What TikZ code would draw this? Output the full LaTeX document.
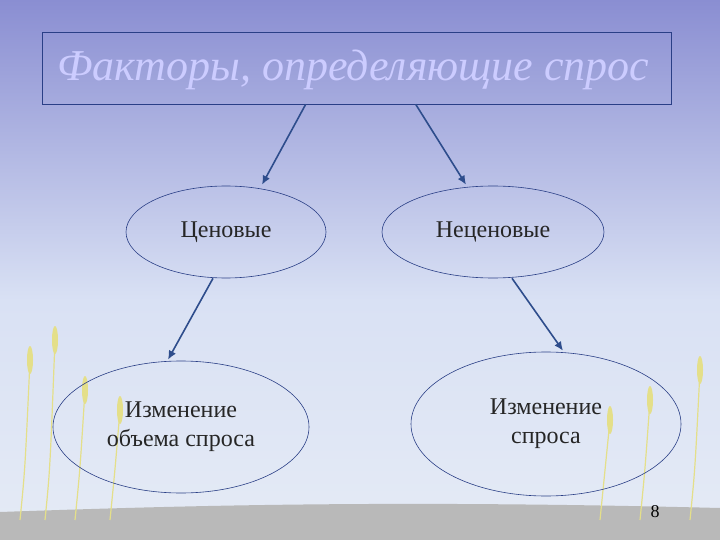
\documentclass[tikz,border=0pt]{standalone}
\usepackage{fontspec}
\setmainfont{Liberation Serif}
\usetikzlibrary{shapes.geometric,arrows.meta,calc}
\definecolor{topc}{HTML}{8A8ED2}
\definecolor{midc}{HTML}{D9E1F4}
\definecolor{lowc}{HTML}{E4EAF5}
\definecolor{arr}{HTML}{2E4D8C}
\definecolor{edge}{HTML}{2A3F86}
\begin{document}
\begin{tikzpicture}[x=1pt,y=-1pt,
  oval/.style={ellipse,draw=edge,line width=0.6pt,align=center,font=\fontsize{24}{29}\selectfont,text=black!85},
  link/.style={draw=arr,line width=1.6pt,-{Latex[length=9pt,width=8pt]}}]
\useasboundingbox (0,0) rectangle (720,540);
\shade[top color=topc,bottom color=midc] (0,0) rectangle (720,300);
\shade[top color=midc,bottom color=lowc] (0,300) rectangle (720,520);
\fill[gray!55] (0,540) -- (0,512) .. controls (200,505) and (400,500) .. (720,508) -- (720,540) -- cycle;
\foreach \x/\h in {20/180,45/200,75/150,110/130,600/120,640/140,690/170}{
  \draw[yellow!40!olive!40!white,line width=1.2pt] (\x,520) .. controls (\x+5,470) .. (\x+10,540-\h);
  \fill[yellow!40!olive!40!white] (\x+10,540-\h) ellipse (3 and 14);}
\node[draw=edge,line width=0.6pt,minimum width=629,minimum height=72,inner sep=0] (title) at (356.5,68) {};
\node[anchor=west,inner sep=0,font=\itshape\fontsize{44}{48}\selectfont,text=white!80!blue] (tt) at (57,70) {Факторы, определяющие спрос};
\node[oval,minimum width=200,minimum height=92] (p) at (226,232) {Ценовые};
\node[oval,minimum width=222,minimum height=92] (np) at (493,232) {Неценовые};
\node[oval,minimum width=256,minimum height=132] (a) at (181,427) {Изменение\\объема спроса};
\node[oval,minimum width=270,minimum height=144] (b) at (546,424) {Изменение\\спроса};
\node[font=\fontsize{18}{20}\selectfont] (num) at (655,512) {8};
\draw[link] ($(title.south west)+(264,0)$) -- ($(p.north)+(36,-1)$);
\draw[link] ($(title.south west)+(374,0)$) -- ($(np.north)+(-27,-1)$);
\draw[link] ($(p.south)+(-13,0)$) -- ($(a.north)+(-13,-1)$);
\draw[link] ($(np.south)+(19,0)$) -- ($(b.north)+(17,-1)$);
\end{tikzpicture}
\end{document}
